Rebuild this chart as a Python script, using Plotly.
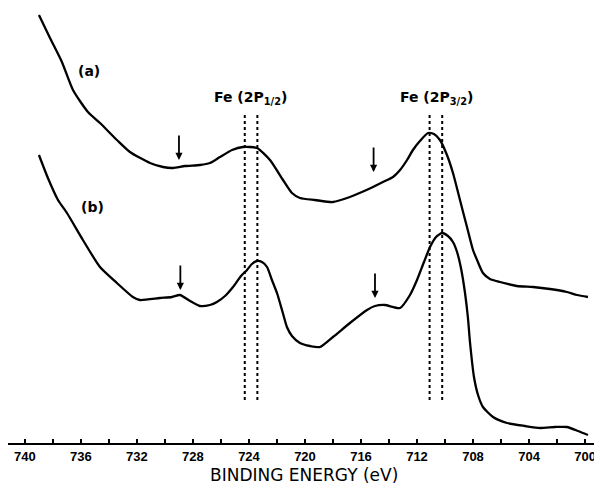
import plotly.graph_objects as go

# Curve (a): binding energy (eV) and intensity (arb. units)
a_energy = [739.0, 738.21, 737.36, 736.57, 735.5, 734.64, 733.43, 732.5, 731.07, 730.14, 729.43, 728.57, 727.5,
            726.79, 726.07, 725.21, 724.43, 723.43, 722.5, 721.57, 720.93, 720.36, 719.29, 718.0, 716.79, 715.93,
            715.14, 714.43, 713.71, 713.21, 712.71, 712.29, 711.79, 711.21, 710.79, 710.36, 709.86, 709.43, 708.93,
            708.43, 708.0, 707.71, 707.29, 706.79, 706.07, 704.86, 703.71, 702.5, 701.29, 700.57, 699.79]
a_int = [428, 405, 381, 353, 331, 320, 303, 291, 280, 276, 275, 277, 278,
         280, 286, 293, 296, 295, 283, 263, 250, 245, 243, 241, 246, 251,
         256, 261, 266, 273, 283, 293, 302, 310, 309, 303, 288, 270, 243,
         216, 193, 183, 170, 164, 161, 157, 156, 154, 151, 148, 146]

# Curve (b)
b_energy = [739.0, 738.36, 737.64, 737.0, 735.86, 734.64, 733.43, 732.29, 731.79, 730.36, 729.5, 728.93, 728.21,
            727.5, 726.79, 726.29, 725.71, 725.14, 724.57, 724.14, 723.79, 723.43, 723.07, 722.71, 722.36, 722.0,
            721.64, 721.29, 720.93, 720.36, 719.64, 718.93, 718.0, 716.79, 715.57, 715.0, 714.29, 713.21, 712.5,
            712.0, 711.5, 711.07, 710.64, 710.21, 709.79, 709.43, 709.14, 708.86, 708.57, 708.36, 708.21, 707.93,
            707.64, 707.29, 706.57, 705.57, 704.29, 703.21, 702.14, 701.29, 700.5, 699.79]
b_int = [288, 265, 243, 230, 203, 176, 160, 146, 143, 145, 146, 148, 142,
         137, 138, 141, 147, 156, 167, 173, 179, 182, 181, 176, 163, 150,
         133, 116, 107, 100, 97, 96, 106, 120, 133, 137, 138, 135, 148,
         163, 181, 196, 206, 210, 207, 201, 191, 175, 150, 125, 100, 66,
         48, 36, 26, 20, 17, 15, 16, 16, 12, 8]

# Reference peak positions (dotted lines) and their vertical extent
ref_energy = [724.3, 723.4, 711.1, 710.2]
ref_top = 329
ref_bottom = 43

# Arrows (satellite markers): energy and tip intensity
arrow_energy = [729.0, 715.1, 728.9, 715.0]
arrow_tip = [283, 271, 153, 145]

# Text labels
peak_labels = ["Fe (2P<sub>1/2</sub>)", "Fe (2P<sub>3/2</sub>)"]
peak_label_energy = [723.9, 710.6]
peak_label_int = 345
curve_labels = ["(a)", "(b)"]
curve_label_energy = [735.4, 735.2]
curve_label_int = [372, 236]

tick_vals = [740, 736, 732, 728, 724, 720, 716, 712, 708, 704, 700]
tick_text = [str(v) for v in tick_vals]

fig = go.Figure()
line_style = dict(color="black", width=2.3, shape="spline", smoothing=0.6)
fig.add_trace(go.Scatter(x=a_energy, y=a_int, mode="lines", line=line_style, showlegend=False))
fig.add_trace(go.Scatter(x=b_energy, y=b_int, mode="lines", line=line_style, showlegend=False))

for e in ref_energy:
    fig.add_trace(go.Scatter(x=[e, e], y=[ref_bottom, ref_top], mode="lines",
                             line=dict(color="black", width=2, dash="dot"), showlegend=False))

annotations = []
for e, t in zip(arrow_energy, arrow_tip):
    annotations.append(dict(x=e, y=t, xref="x", yref="y", text="", showarrow=True,
                            ax=0, ay=-26, arrowhead=2, arrowsize=0.8, arrowwidth=1.8,
                            arrowcolor="black", standoff=0))
for txt, e in zip(peak_labels, peak_label_energy):
    annotations.append(dict(x=e, y=peak_label_int, xref="x", yref="y", text="<b>" + txt + "</b>",
                            showarrow=False, font=dict(size=14, color="black", family="DejaVu Sans")))
for txt, e, i in zip(curve_labels, curve_label_energy, curve_label_int):
    annotations.append(dict(x=e, y=i, xref="x", yref="y", text="<b>" + txt + "</b>",
                            showarrow=False, font=dict(size=14, color="black", family="DejaVu Sans")))
annotations.append(dict(x=0.5, y=-0.074, xref="paper", yref="paper", text="BINDING ENERGY (eV)",
                        showarrow=False, yanchor="middle",
                        font=dict(size=17, color="black", family="DejaVu Sans")))

fig.update_layout(
    width=594, height=484,
    margin=dict(l=0, r=2, t=0, b=49),
    paper_bgcolor="white", plot_bgcolor="white",
    annotations=annotations,
    xaxis=dict(range=[741.21, 698.93], tickvals=tick_vals, ticktext=tick_text,
               showgrid=False, zeroline=False, showline=True, linecolor="black", linewidth=2,
               ticks="inside", ticklen=4, tickwidth=1.5, tickcolor="black",
               minor=dict(dtick=2, ticks="inside", ticklen=4, tickwidth=1.5, tickcolor="black", showgrid=False),
               tickfont=dict(size=13, color="black", family="Liberation Sans", weight="bold")),
    yaxis=dict(range=[0, 435], visible=False),
)

fig.write_html("out.html")
